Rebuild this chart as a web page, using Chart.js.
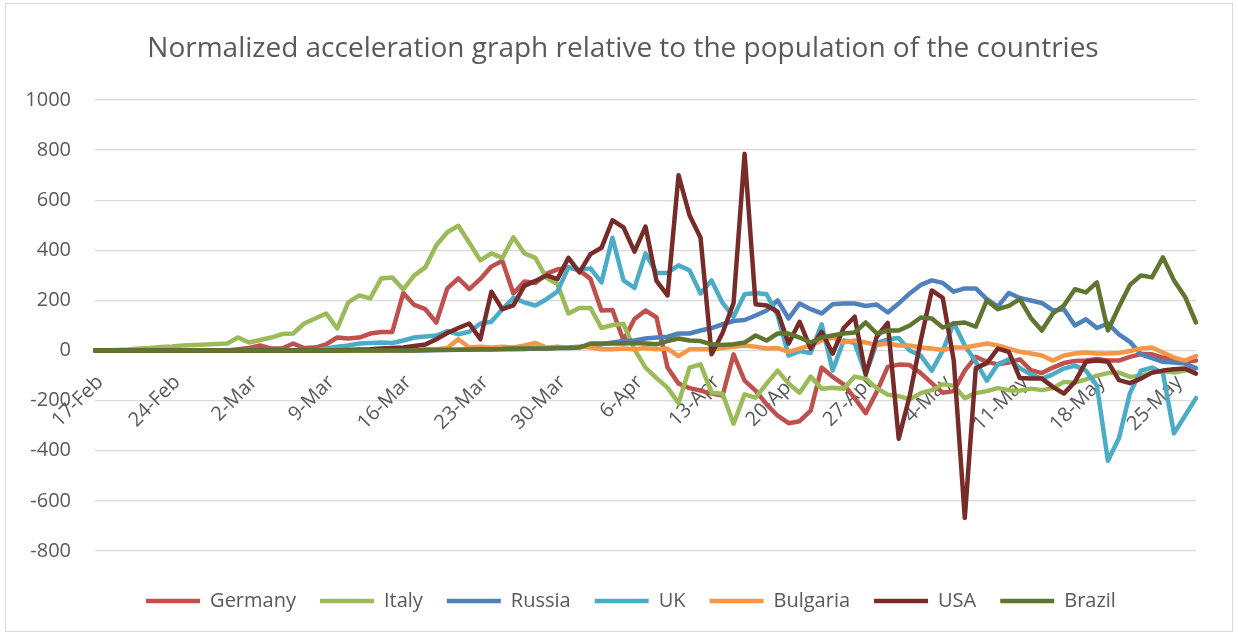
<!DOCTYPE html>
<html>
<head>
<meta charset="utf-8">
<script src="https://cdn.jsdelivr.net/npm/chart.js@4.4.0/dist/chart.umd.min.js"></script>
<style>
html,body{margin:0;padding:0;background:#fff;}
#wrap{position:relative;width:1238px;height:635px;overflow:hidden;}
canvas{position:absolute;left:0;top:0;}
#frame{position:absolute;left:5px;top:3px;width:1228px;height:629px;border:1px solid #D9D9D9;box-sizing:border-box;pointer-events:none;}
</style>
</head>
<body>
<div id="wrap"><canvas id="c" width="1238" height="635"></canvas><div id="frame"></div></div>
<script>
const titleText = 'Normalized acceleration graph relative to the population of the countries';

const categories = [
 '17-Feb','18-Feb','19-Feb','20-Feb','21-Feb','22-Feb','23-Feb','24-Feb','25-Feb','26-Feb','27-Feb','28-Feb','29-Feb',
 '1-Mar','2-Mar','3-Mar','4-Mar','5-Mar','6-Mar','7-Mar','8-Mar','9-Mar','10-Mar','11-Mar','12-Mar','13-Mar','14-Mar','15-Mar','16-Mar','17-Mar','18-Mar','19-Mar','20-Mar','21-Mar','22-Mar','23-Mar','24-Mar','25-Mar','26-Mar','27-Mar','28-Mar','29-Mar','30-Mar','31-Mar',
 '1-Apr','2-Apr','3-Apr','4-Apr','5-Apr','6-Apr','7-Apr','8-Apr','9-Apr','10-Apr','11-Apr','12-Apr','13-Apr','14-Apr','15-Apr','16-Apr','17-Apr','18-Apr','19-Apr','20-Apr','21-Apr','22-Apr','23-Apr','24-Apr','25-Apr','26-Apr','27-Apr','28-Apr','29-Apr','30-Apr',
 '1-May','2-May','3-May','4-May','5-May','6-May','7-May','8-May','9-May','10-May','11-May','12-May','13-May','14-May','15-May','16-May','17-May','18-May','19-May','20-May','21-May','22-May','23-May','24-May','25-May','26-May','27-May'
];

const seriesNames = ['Germany','Italy','Russia','UK','Bulgaria','USA','Brazil'];
const seriesColors = ['#C0504D','#9BBB59','#4F81BD','#4BACC6','#F79646','#772C2A','#5F7530'];

const germany = [
 0,0,0,0,0,0,0,0,0,0,
 0,0,0,5,10,20,8,8,28,10,
 12,25,52,48,52,68,74,74,230,182,
 165,112,248,288,245,286,335,358,228,276,
 270,306,324,332,320,286,160,162,40,126,
 160,132,-68,-132,-150,-160,-172,-180,-15,-120,
 -160,-215,-260,-290,-282,-240,-68,-105,-135,-190,
 -250,-165,-65,-56,-58,-90,-130,-168,-162,-80,
 -25,-45,-55,-48,-35,-78,-90,-68,-50,-42,
 -40,-34,-40,-40,-25,-14,-15,-28,-32,-45,
 -40];

const italy = [
 0,0,2,4,8,10,14,16,20,22,
 24,26,28,52,32,42,52,66,68,108,
 128,148,88,192,220,208,288,292,244,300,
 332,420,472,498,430,360,388,370,452,388,
 370,290,265,148,170,170,90,102,106,5,
 -68,-110,-148,-210,-68,-55,-168,-172,-292,-175,
 -188,-132,-80,-132,-168,-104,-152,-148,-152,-104,
 -112,-150,-176,-182,-195,-170,-158,-135,-140,-190,
 -170,-162,-150,-158,-160,-152,-158,-150,-125,-128,
 -115,-100,-90,-88,-105,-100,-88,-82,-88,-80,
 -70];

const russia = [
 0,0,0,0,0,0,0,0,0,0,
 0,0,0,0,0,0,0,0,0,0,
 0,0,0,0,0,0,0,0,0,0,
 0,2,2,3,3,4,4,5,5,6,
 8,8,10,12,15,20,25,32,38,40,
 48,52,55,68,68,80,90,105,118,122,
 140,160,200,128,188,165,148,185,188,188,
 178,184,152,188,228,262,280,270,235,248,
 248,205,175,230,210,200,190,160,165,100,
 125,90,108,65,35,-15,-30,-45,-48,-52,
 -70];

const uk = [
 0,0,0,0,0,0,0,0,0,0,
 0,0,0,0,0,0,0,0,0,0,
 0,8,15,20,28,30,32,30,40,52,
 56,60,78,65,75,108,115,165,210,192,
 180,205,235,332,322,328,272,450,280,250,
 388,310,310,340,320,228,280,190,135,225,
 230,225,140,-20,-2,-10,105,-80,40,30,
 -95,30,45,50,0,-20,-80,0,110,20,
 -45,-120,-55,-35,-70,-95,-112,-95,-72,-60,
 -80,-140,-440,-350,-170,-80,-68,-90,-330,-260,
 -190];

const bulgaria = [
 0,0,0,0,0,0,0,0,0,0,
 0,0,0,0,0,0,0,0,0,0,
 0,0,0,0,0,0,0,0,5,0,
 5,5,10,45,12,15,12,15,12,20,
 30,12,15,10,15,12,5,5,8,5,
 10,5,8,-22,5,5,5,10,15,20,
 15,8,10,-5,8,20,40,52,32,40,
 32,22,28,20,20,12,8,2,12,12,
 20,28,20,8,-5,-12,-20,-40,-20,-12,
 -8,-12,-12,-10,-2,8,12,-8,-28,-40,
 -22];

const usa = [
 0,0,0,0,0,0,0,0,0,0,
 0,0,0,0,0,0,0,0,0,0,
 0,0,0,2,4,5,8,10,12,18,
 24,45,70,90,108,45,235,165,180,258,
 278,300,285,370,312,385,410,520,492,395,
 495,278,220,700,540,450,-15,70,190,785,
 185,180,155,28,115,8,75,-12,90,135,
 -95,55,110,-352,-180,40,240,210,-40,-668,
 -70,-50,8,-5,-110,-112,-112,-145,-172,-125,
 -45,-40,-45,-118,-130,-112,-88,-80,-75,-72,
 -92];

const brazil = [
 0,0,0,0,0,0,0,0,0,0,
 0,0,0,0,0,0,0,0,0,0,
 0,0,0,0,0,0,0,0,0,0,
 2,2,3,3,4,5,5,6,8,8,
 8,8,10,10,12,28,28,28,28,30,
 28,25,38,48,40,38,25,22,25,32,
 60,40,68,68,52,32,52,60,68,72,
 112,68,80,80,100,132,128,92,108,112,
 95,200,165,178,205,130,80,148,180,245,
 232,272,80,175,262,300,292,372,280,215,
 112];

const yTickMin = -800, yTickMax = 1000, yTickStep = 200;
const labelEvery = 7;

const seriesData = [germany, italy, russia, uk, bulgaria, usa, brazil];

const FONT = "'Open Sans', 'DejaVu Sans', sans-serif";
const TXT = '#595959';

const datasets = seriesNames.map((name, k) => ({
  label: name,
  data: seriesData[k],
  borderColor: seriesColors[k],
  backgroundColor: seriesColors[k],
  borderWidth: 4.5,
  pointRadius: 0,
  pointHoverRadius: 0,
  tension: 0,
  fill: false,
  borderJoinStyle: 'round',
  borderCapStyle: 'round',
  order: seriesNames.length - 1 - k
}));

const blockShift = {
  id: 'blockShift',
  afterLayout(chart) {
    const lg = chart.legend;
    if (lg) { lg.left += 22; lg.right += 22; }
    const tb = chart.titleBlock;
    if (tb) { tb.left += 14; tb.right += 14; }
  }
};

new Chart(document.getElementById('c'), {
  type: 'line',
  data: { labels: categories, datasets },
  plugins: [blockShift],
  options: {
    responsive: false,
    animation: false,
    devicePixelRatio: 1,
    layout: { padding: { left: 22, right: 42, top: 0, bottom: 14 } },
    plugins: {
      title: {
        display: true, text: titleText, color: TXT,
        font: { family: FONT, size: 28, weight: 'normal' },
        padding: { top: 32, bottom: 34.4 }
      },
      legend: {
        position: 'bottom',
        title: { display: true, text: '', font: { size: 10 }, padding: { top: 2, bottom: 2 } },
        labels: {
          usePointStyle: true, pointStyle: 'line', pointStyleWidth: 54,
          color: TXT, font: { family: FONT, size: 20 }, padding: 24,
          sort: (a, b) => a.datasetIndex - b.datasetIndex
        }
      },
      tooltip: { enabled: false }
    },
    scales: {
      x: {
        position: { y: 0 },
        grid: { display: false, drawTicks: false },
        border: { display: true, color: '#D9D9D9', width: 1 },
        ticks: {
          autoSkip: false, maxRotation: 45, minRotation: 45,
          color: TXT, font: { family: FONT, size: 20 }, padding: 20, labelOffset: 5,
          callback: (v, i) => (i % labelEvery === 0 ? categories[i] : '')
        }
      },
      y: {
        min: yTickMin, max: yTickMax,
        ticks: { stepSize: yTickStep, color: TXT, font: { family: FONT, size: 20 }, padding: 24,
                 callback: (v) => String(v) },
        grid: { color: '#D9D9D9', lineWidth: 1.3, drawTicks: false },
        border: { display: false },
        afterFit: (s) => { s.width = 73; }
      }
    }
  }
});
</script>
</body>
</html>
